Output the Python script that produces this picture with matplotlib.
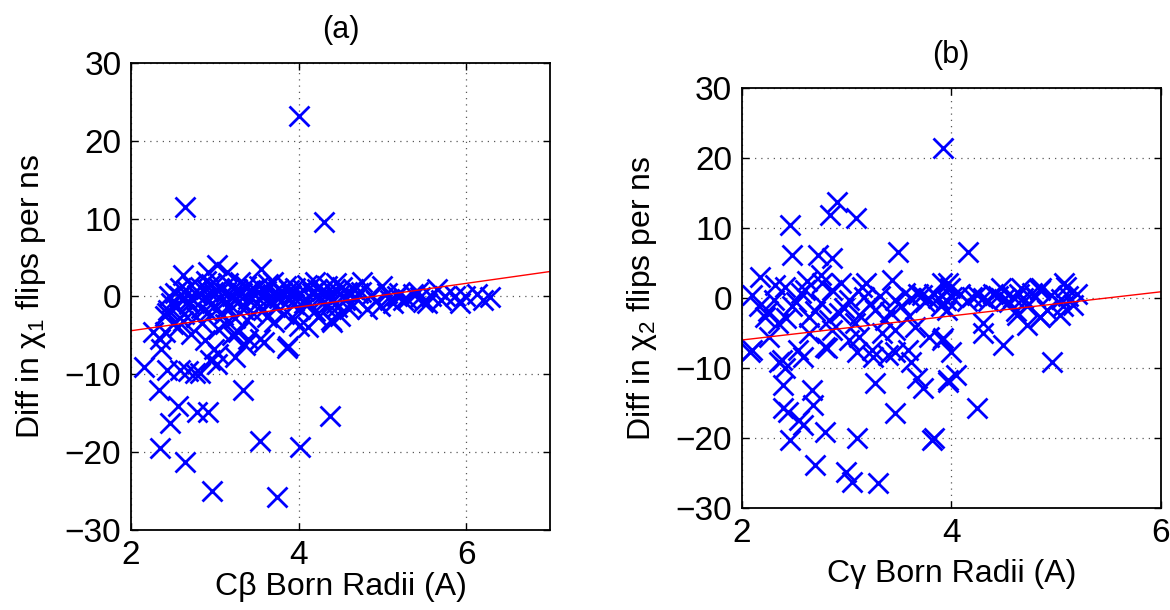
import numpy as np
import matplotlib
matplotlib.use("Agg")
import matplotlib.pyplot as plt

plt.rcParams['font.family'] = ['Liberation Sans', 'DejaVu Sans']
plt.rcParams['mathtext.default'] = 'regular'

# panel (a): C-beta Born radii vs diff in chi1 flips per ns
cb_radii = [
    4.00, 2.65, 4.30, 2.62, 2.92, 3.03, 3.15, 3.55, 2.15, 2.33,
    2.35, 2.47, 2.56, 2.64, 2.79, 2.92, 2.97, 3.34, 3.54, 3.74,
    4.02, 4.38, 3.86, 2.35, 2.43, 2.59, 2.68, 2.76, 2.82, 2.94,
    3.04, 3.03, 3.24, 3.36, 3.54, 2.26, 2.43, 2.36, 2.40, 2.56,
    2.99, 3.04, 3.28, 3.40, 3.59, 3.87, 3.71, 4.11, 4.23, 4.39,
    4.00, 2.40, 2.44,
    2.52, 2.55, 2.58, 2.61, 2.63, 2.66, 2.69, 2.71, 2.74, 2.77,
    2.79, 2.82, 2.84, 2.87, 2.90, 2.92, 2.95, 2.97, 3.00, 3.02,
    3.05, 3.08, 3.10, 3.13, 3.16, 3.18, 3.21, 3.24, 3.26, 3.29,
    3.32, 3.34, 3.37, 3.40, 3.42, 3.45, 3.48, 3.50, 3.53, 3.56,
    3.58, 3.61, 3.64, 3.66, 3.69, 3.72, 3.75, 3.77, 3.80, 3.83,
    3.85, 3.88, 3.91, 3.94, 3.96, 3.99, 4.02, 4.05, 4.08, 4.10,
    4.13, 4.16, 4.19, 4.22, 4.25, 4.28, 4.31, 4.34, 4.37, 4.40,
    4.43, 4.46, 4.49, 4.52, 4.55, 4.58, 4.62, 4.65, 4.68, 4.71,
    4.86, 4.92, 5.05, 5.13, 5.20, 5.30, 5.42, 5.48, 5.58, 5.70,
    5.45, 5.65, 5.75, 5.87, 5.99, 6.13, 6.29, 6.20, 5.93, 5.53,
    5.37, 5.09, 4.97, 5.00, 4.76, 4.75, 4.82, 4.60, 4.40, 4.50,
    4.45, 5.17, 5.25,
    2.62, 2.85, 3.12, 3.38, 3.62, 3.95, 2.72, 3.20, 2.50, 2.88,
    2.45, 2.48, 3.70, 4.20, 4.45, 2.90, 3.30,
    2.68, 2.98, 3.27, 3.47, 3.67, 3.89, 4.07, 4.27, 2.57, 3.14,
]
chi1_diff = [
    23.2, 11.5, 9.5, 2.8, 3.2, 4.1, 3.2, 3.5, -9.0, -12.0,
    -19.4, -16.2, -14.1, -21.2, -14.9, -14.9, -25.0, -12.0, -18.6, -25.8,
    -19.3, -15.4, -6.6, -5.5, -9.4, -9.4, -9.6, -9.8, -9.8, -8.1,
    -7.4, -8.7, -7.8, -6.2, -5.5, -4.5, -2.1, -6.8, -4.6, -3.9,
    -6.8, -4.2, -4.6, -5.5, -5.9, -6.4, -3.3, -3.9, -2.6, -3.0,
    -3.8, -2.5, -1.7,
    0.4, -1.2, 1.1, -0.3, -2.2, 0.8, -1.0, 1.5, -0.5, -2.6,
    0.2, 1.2, -1.5, -0.2, 0.9, -2.0, 1.6, -0.8, 0.3, -1.7,
    1.1, -0.4, -2.4, 0.6, 1.7, -1.1, 0.0, -2.8, 1.0, -0.6,
    0.5, -1.6, 1.4, -0.3, 0.8, -2.1, 0.2, -0.9, 1.3, -0.1,
    -1.8, 0.7, 1.6, -0.7, 0.3, -1.3, 1.0, -0.2, 0.6, -2.3,
    1.4, -0.5, 0.2, -1.0, 1.1, 0.0, -1.6, 0.8, -0.3, 1.5,
    -0.8, 0.4, -1.9, 1.0, -0.1, 0.7, -1.2, 1.3, 0.1, -0.6,
    0.9, -1.4, 0.3, 1.2, -0.4, 0.6, -0.9, 1.0, -0.2, 0.4,
    0.2, -0.6, 0.5, -0.9, 0.4, -0.3, 0.6, -0.7, 0.1, -0.5,
    -0.1, 0.9, 0.0, 0.0, 0.0, 0.3, -0.1, -0.5, -0.8, -0.8,
    0.3, -0.4, -1.2, 1.3, 1.8, 0.6, -1.6, -1.6, -3.3, -2.5,
    -0.8, 0.1, -0.5,
    -3.1, -3.4, -3.6, -3.0, -2.7, -2.9, -4.8, -5.0, -3.5, -5.6,
    0.0, -0.9, 1.9, 1.8, 1.7, 2.0, 1.9,
    -0.6, 0.6, 0.4, 0.9, -0.4, 0.8, -0.9, -0.4, 0.1, -1.4,
]
fit_a = (1.52, -7.44)  # slope, intercept

# panel (b): C-gamma Born radii vs diff in chi2 flips per ns
cg_radii = [
    3.92, 2.17, 2.46, 2.48, 2.91, 2.84, 3.09, 2.73, 2.86, 3.49,
    3.43, 2.41, 2.77, 3.19, 2.60, 4.16, 5.08, 3.97, 4.48, 4.86,
    4.67,
    2.08, 2.36, 2.41, 2.39, 2.67, 2.39, 2.44, 2.55, 2.68, 2.58,
    2.46, 2.79, 2.70, 3.00, 3.05, 3.30, 3.10, 3.27, 3.46, 3.82,
    3.73, 3.67, 2.58, 2.81, 3.10, 3.25, 3.46, 3.62, 3.97,
    4.00, 4.05, 3.97, 4.25, 3.84, 4.96, 4.49, 4.30, 4.30, 4.72,
    3.92, 5.04, 4.85, 4.63,
    3.99, 4.01, 4.20, 4.30, 4.40, 4.50, 4.59, 4.69, 4.77, 4.85,
    5.10, 5.20, 5.16, 5.07, 4.91, 4.72, 4.62, 4.85, 3.96,
    3.15, 3.91,
    2.10, 2.16, 2.22, 2.31, 2.35, 2.48, 2.57, 2.64, 2.76, 2.86,
    2.93, 3.02, 3.08, 3.17, 3.27, 3.37, 3.46, 3.56, 3.62, 3.72,
    3.78, 3.87, 3.90, 3.65, 3.79, 3.91, 2.10, 2.38, 2.54, 2.79,
    3.02, 3.12, 3.24, 3.40, 3.59, 2.26, 2.64, 2.86, 3.34, 3.46,
    2.25, 2.42, 2.52, 2.70, 2.83, 2.98, 3.12, 3.22, 3.32, 3.42,
    3.52, 3.60, 3.68, 3.75, 3.84, 3.95, 4.08, 4.15, 4.25, 4.35,
    4.45, 4.55, 4.65, 4.80, 4.95, 5.05, 5.12, 2.32, 2.62, 2.95,
    2.76,
]
chi2_diff = [
    21.4, 3.0, 10.4, 6.1, 13.7, 11.9, 11.4, 6.1, 5.7, 6.6,
    2.6, 1.6, 2.1, 2.1, 1.1, 6.6, 2.1, 2.1, 1.4, 1.4,
    1.4,
    -7.7, -9.1, -10.0, -12.4, -13.1, -15.7, -16.3, -17.4, -15.3, -18.1,
    -20.3, -19.1, -23.9, -24.9, -26.3, -26.4, -20.0, -12.1, -16.4, -20.3,
    -12.9, -11.4, -8.4, -7.1, -7.7, -8.4, -7.7, -9.1, -11.7,
    -7.7, -11.0, -12.0, -15.7, -20.0, -9.1, -6.7, -5.0, -3.6, -3.9,
    -5.7, -2.4, -2.7, -2.5,
    1.4, 0.1, 0.1, 0.0, 0.5, -0.2, 0.1, 0.0, 0.7, 1.1,
    1.6, 0.5, -1.0, -1.1, -1.7, -1.1, -1.9, -2.7, -1.7,
    1.6, 2.1,
    0.4, -1.2, -2.7, -0.3, -3.6, -1.2, 0.7, -2.7, -0.7, 1.1,
    -2.2, -0.3, -3.6, 0.1, -1.7, -3.1, -0.3, 0.7, 0.0, 0.4,
    0.0, 0.0, -1.2, -4.1, -5.6, -6.0, -7.4, -8.9, -7.4, -7.0,
    -6.0, -5.6, -7.4, -8.1, -7.4, -5.6, -5.0, -4.6, -5.0, -4.6,
    -1.8, -2.9, -0.6, -1.9, -3.1, -1.4, -2.5, -0.9, 0.3, -2.0,
    -1.1, -2.6, 0.6, -0.6, 0.5, -0.3, 0.6, -0.4, 0.4, -0.5,
    0.3, -0.6, 0.5, 0.2, 0.4, -0.2, 0.3, 1.8, 2.4, 2.2,
    3.3,
]
fit_b = (1.72, -9.44)


def panel(ax, xs, ys, fit, xlim, title, xlabel, ylabel, xpad):
    ax.plot(xs, ys, 'x', color='blue', ms=15, mew=2)
    lx = np.array(xlim, dtype=float)
    ax.plot(lx, fit[0] * lx + fit[1], '-', color='red', lw=1)
    ax.set_xlim(xlim)
    ax.set_ylim(-30, 30)
    ax.set_xticks([2, 4, 6])
    ax.set_yticks([-30, -20, -10, 0, 10, 20, 30])
    ax.grid(True, color='0.35', linestyle=(0, (1, 4)), linewidth=0.9)
    ax.tick_params(direction='in', top=True, right=True, length=5,
                   labelsize=24, width=1, pad=7)
    for s in ax.spines.values():
        s.set_linewidth(1.3)
    ax.set_title(title, fontsize=22, pad=18)
    ax.set_xlabel(xlabel, fontsize=23, labelpad=xpad)
    ax.set_ylabel(ylabel, fontsize=23, labelpad=12)


fig = plt.figure(figsize=(11.7, 6.1), dpi=100)
ax1 = fig.add_axes([0.112, 0.131, 0.358, 0.766])
ax2 = fig.add_axes([0.634, 0.167, 0.358, 0.689])

panel(ax1, cb_radii, chi1_diff, fit_a, (2, 7), '(a)',
      'Cβ Born Radii (A)', 'Diff in χ$_1$ flips per ns', 1)
panel(ax2, cg_radii, chi2_diff, fit_b, (2, 6), '(b)',
      'Cγ Born Radii (A)', 'Diff in χ$_2$ flips per ns', 7)

fig.savefig('out.png', dpi=100)
